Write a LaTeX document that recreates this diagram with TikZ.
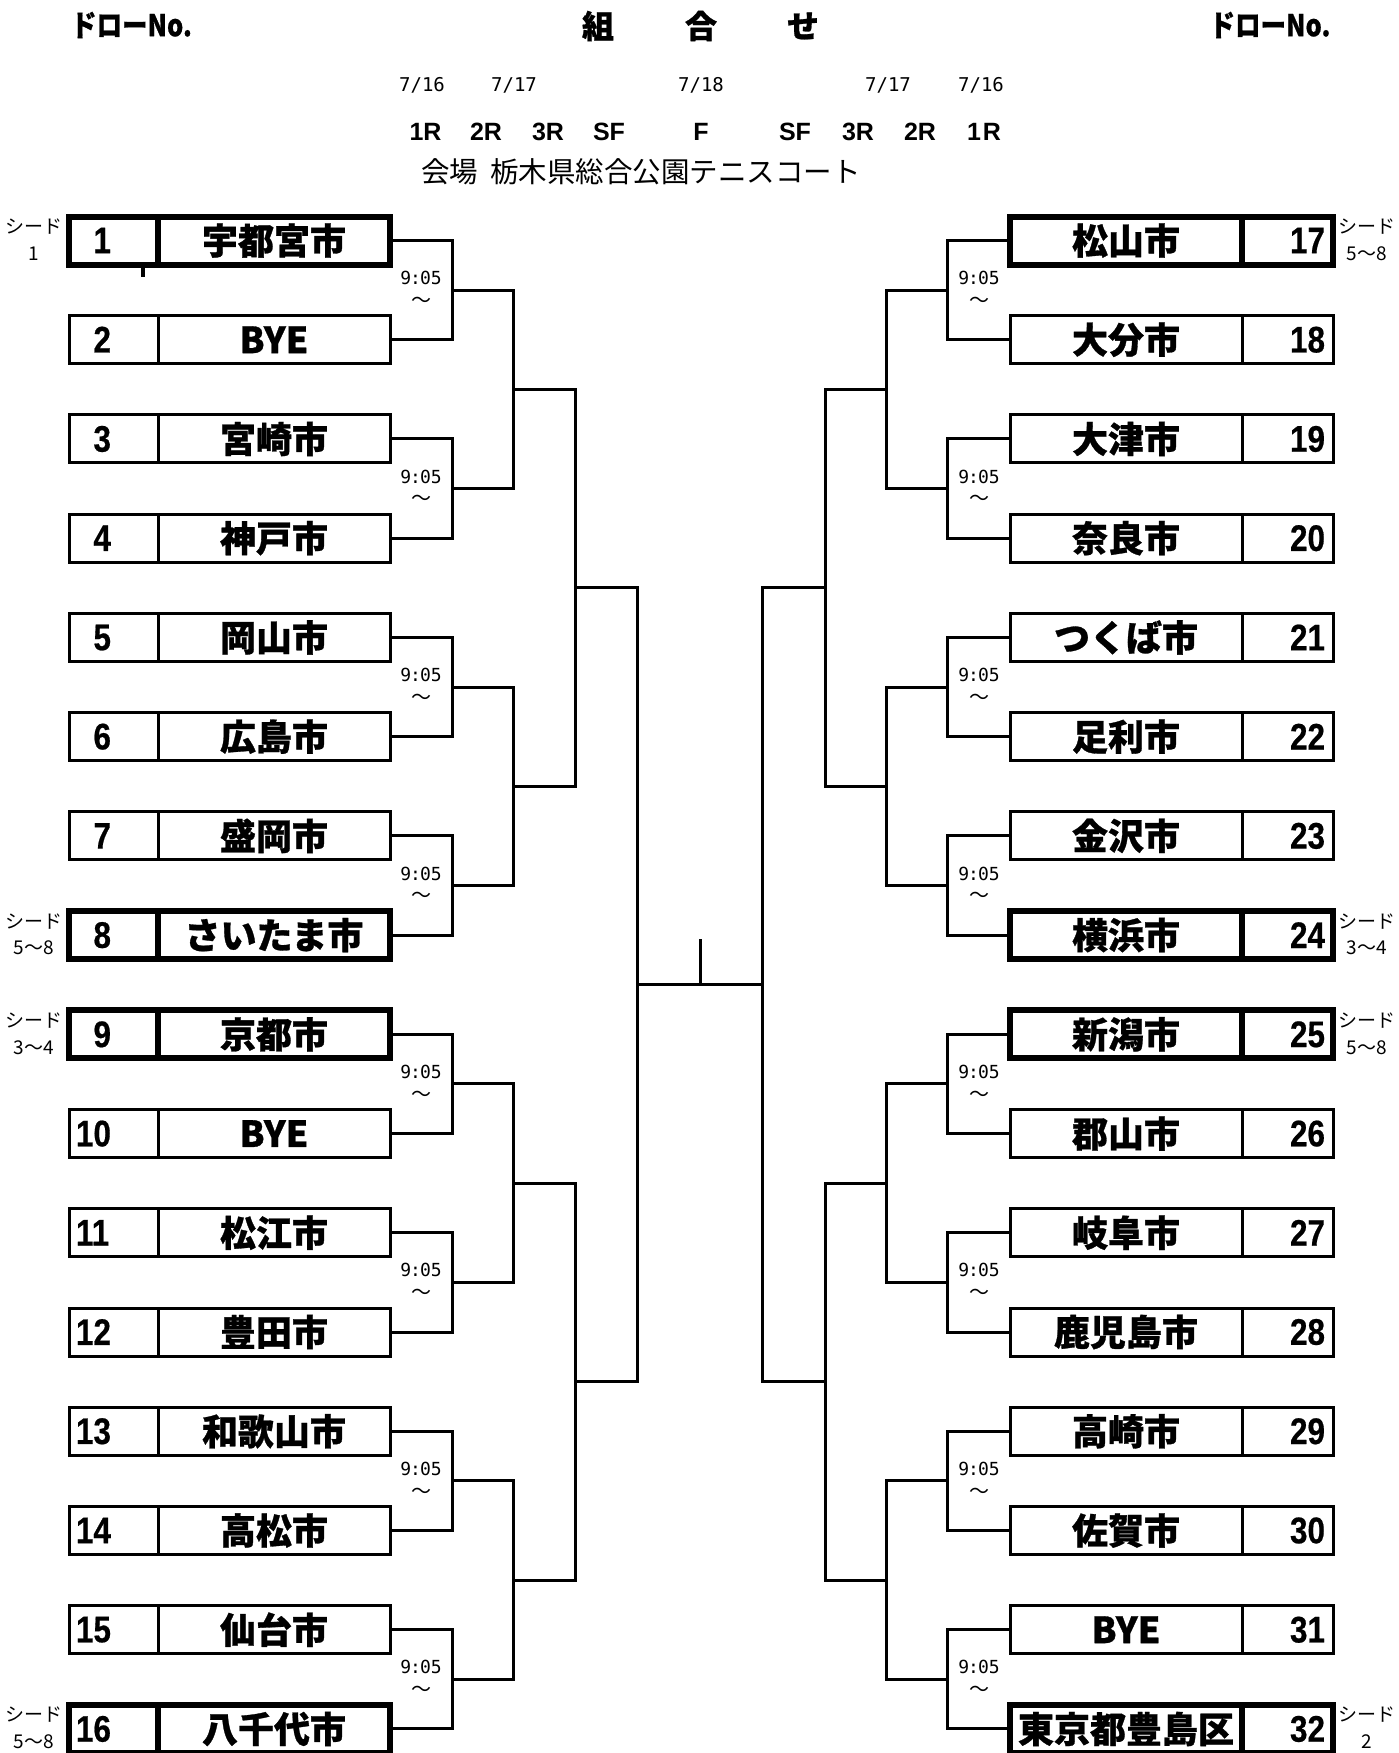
\documentclass[tikz,border=0pt]{standalone}
\usepackage{fontspec}
\setmainfont{Noto Sans CJK JP}
\newfontfamily\jpfont{Noto Sans CJK JP}
\newfontfamily\jpbold[FakeBold=0.8]{Noto Sans CJK JP}
\newfontfamily\jpnarrow[FakeStretch=0.85,FakeBold=0.6]{Noto Sans CJK JP}
\newfontfamily\numfont[FakeStretch=0.85,FakeBold=0.5]{Liberation Sans}
\newfontfamily\latfont{Liberation Sans}
\newfontfamily\monofont{DejaVu Sans Mono}
\begin{document}
\begin{tikzpicture}[x=1pt,y=-1pt,
  conn/.style={line width=3pt},
  cellbase/.style={draw,line width=3pt,minimum height=48pt,inner ysep=0pt},
  seeded/.style={line width=6pt},
  plain/.style={},
  numL/.style={cellbase,minimum width=89pt,text width=75pt,inner xsep=7pt,align=left,font=\numfont\bfseries\fontsize{37}{37}\selectfont},
  numR/.style={cellbase,minimum width=91pt,text width=75pt,inner xsep=8pt,align=right,font=\numfont\bfseries\fontsize{37}{37}\selectfont},
  namecell/.style={cellbase,minimum width=232pt,inner xsep=0pt,font=\jpbold\bfseries\fontsize{36}{36}\selectfont},
  timelbl/.style={inner sep=0pt,font=\monofont\fontsize{18}{18}\selectfont},
  tildelbl/.style={inner sep=0pt,font=\jpfont\fontsize{20}{20}\selectfont},
  seedlbl/.style={inner sep=0pt,font=\jpfont\fontsize{19}{19}\selectfont},
  drawno/.style={inner sep=0pt,font=\jpnarrow\bfseries\fontsize{30}{30}\selectfont},
  ttl/.style={inner sep=0pt,font=\jpbold\bfseries\fontsize{32}{32}\selectfont},
  datelbl/.style={inner sep=0pt,font=\monofont\fontsize{19}{19}\selectfont},
  roundlbl/.style={inner sep=0pt,font=\latfont\bfseries\fontsize{25}{25}\selectfont},
  venue/.style={inner sep=0pt,font=\jpfont\fontsize{28.5}{28.5}\selectfont}
]
\useasboundingbox (0,0) rectangle (1399,1753);

% header
\node[drawno] (dnL) at (131.5,25) {ドローNo.};
\node[drawno] (dnR) at (1270,25) {ドローNo.};
\node[ttl] (ti1) at (598,26) {組};
\node[ttl] (ti2) at (701,26) {合};
\node[ttl] (ti3) at (803,26) {せ};
\node[datelbl] (d1) at (422,85) {7/16};
\node[datelbl] (d2) at (514,85) {7/17};
\node[datelbl] (d3) at (701,85) {7/18};
\node[datelbl] (d4) at (888,85) {7/17};
\node[datelbl] (d5) at (981,85) {7/16};
\node[roundlbl] (rl1) at (425.5,132) {1R};
\node[roundlbl] (rl2) at (486,132) {2R};
\node[roundlbl] (rl3) at (548,132) {3R};
\node[roundlbl] (rl4) at (609,132) {SF};
\node[roundlbl] (rl5) at (701,132) {F};
\node[roundlbl] (rr4) at (795,132) {SF};
\node[roundlbl] (rr3) at (858,132) {3R};
\node[roundlbl] (rr2) at (920,132) {2R};
\node[roundlbl] (rr1) at (984,132) {1\kern2pt R};
\node[venue] (ven) at (641,172) {会場 \kern0.2em栃木県総合公園テニスコート};

% left boxes
\foreach \i/\nm/\st in {1/宇都宮市/seeded,2/BYE/plain,3/宮崎市/plain,4/神戸市/plain,
  5/岡山市/plain,6/広島市/plain,7/盛岡市/plain,8/さいたま市/seeded,
  9/京都市/seeded,10/BYE/plain,11/松江市/plain,12/豊田市/plain,
  13/和歌山市/plain,14/高松市/plain,15/仙台市/plain,16/八千代市/seeded}{
  \pgfmathsetmacro\yy{240.5+(\i-1)*99.23}
  \node[numL,\st] (n\i) at (113.5,\yy) {\ifnum\i<10 \phantom{0}\fi\i};
  \node[namecell,\st] (t\i) at (274,\yy) {\nm};
}
% right boxes
\foreach \i/\nm/\st in {17/松山市/seeded,18/大分市/plain,19/大津市/plain,20/奈良市/plain,
  21/つくば市/plain,22/足利市/plain,23/金沢市/plain,24/横浜市/seeded,
  25/新潟市/seeded,26/郡山市/plain,27/岐阜市/plain,28/鹿児島市/plain,
  29/高崎市/plain,30/佐賀市/plain,31/BYE/plain,32/東京都豊島区/seeded}{
  \pgfmathsetmacro\yy{240.5+(\i-17)*99.23}
  \node[namecell,\st] (t\i) at (1126,\yy) {\nm};
  \node[numR,\st] (n\i) at (1287.5,\yy) {\i};
}
% small mark under box 1
\draw[line width=4pt] (143,268) -- (143,277);

% seed labels
\foreach \i/\s in {1/1,8/5～8,9/3～4,16/5～8}{
  \pgfmathsetmacro\yy{240.5+(\i-1)*99.23}
  \node[seedlbl] (sa\i) at (34,{\yy-14}) {シード};
  \node[seedlbl] (sb\i) at (34,{\yy+13}) {\s};
}
\foreach \i/\s in {17/5～8,24/3～4,25/5～8,32/2}{
  \pgfmathsetmacro\yy{240.5+(\i-17)*99.23}
  \node[seedlbl] (sa\i) at (1367,{\yy-14}) {シード};
  \node[seedlbl] (sb\i) at (1367,{\yy+13}) {\s};
}

% first round
\foreach \p in {1,...,8}{
  \pgfmathtruncatemacro\a{2*\p-1}
  \pgfmathtruncatemacro\b{2*\p}
  \pgfmathtruncatemacro\c{16+2*\p-1}
  \pgfmathtruncatemacro\d{16+2*\p}
  \pgfmathsetmacro\ym{240.5+(2*\p-1.5)*99.23}
  \coordinate (L1-\p) at (452.5,\ym);
  \coordinate (R1-\p) at (947.5,\ym);
  \draw[conn] (t\a.east) -| (L1-\p) |- (t\b.east);
  \draw[conn] (t\c.west) -| (R1-\p) |- (t\d.west);
  \node[timelbl] (LT\p) at (421,{\ym-12}) {9\kern-1pt:\kern-1pt05};
  \node[tildelbl] (LW\p) at (421,{\ym+12}) {～};
  \node[timelbl] (RT\p) at (979,{\ym-12}) {9\kern-1pt:\kern-1pt05};
  \node[tildelbl] (RW\p) at (979,{\ym+12}) {～};
}
% second round
\foreach \q in {1,...,4}{
  \pgfmathtruncatemacro\a{2*\q-1}
  \pgfmathtruncatemacro\b{2*\q}
  \pgfmathsetmacro\ym{240.5+(4*\q-2.5)*99.23}
  \coordinate (L2-\q) at (513.5,\ym);
  \coordinate (R2-\q) at (886.5,\ym);
  \draw[conn] (L1-\a) -| (L2-\q) |- (L1-\b);
  \draw[conn] (R1-\a) -| (R2-\q) |- (R1-\b);
}
% third round
\foreach \s in {1,2}{
  \pgfmathtruncatemacro\a{2*\s-1}
  \pgfmathtruncatemacro\b{2*\s}
  \pgfmathsetmacro\ym{240.5+(8*\s-4.5)*99.23}
  \coordinate (L3-\s) at (575,\ym);
  \coordinate (R3-\s) at (825,\ym);
  \draw[conn] (L2-\a) -| (L3-\s) |- (L2-\b);
  \draw[conn] (R2-\a) -| (R3-\s) |- (R2-\b);
}
% semifinal and final
\coordinate (L4) at (637.5,{240.5+7.5*99.23});
\coordinate (R4) at (762.5,{240.5+7.5*99.23});
\draw[conn] (L3-1) -| (L4) |- (L3-2);
\draw[conn] (R3-1) -| (R4) |- (R3-2);
\draw[conn] (L4) -- (R4);
\coordinate (Fmid) at (700,{240.5+7.5*99.23});
\coordinate (Ftop) at (700,939);
\draw[conn] (Fmid) -- (Ftop);
\end{tikzpicture}
\end{document}
